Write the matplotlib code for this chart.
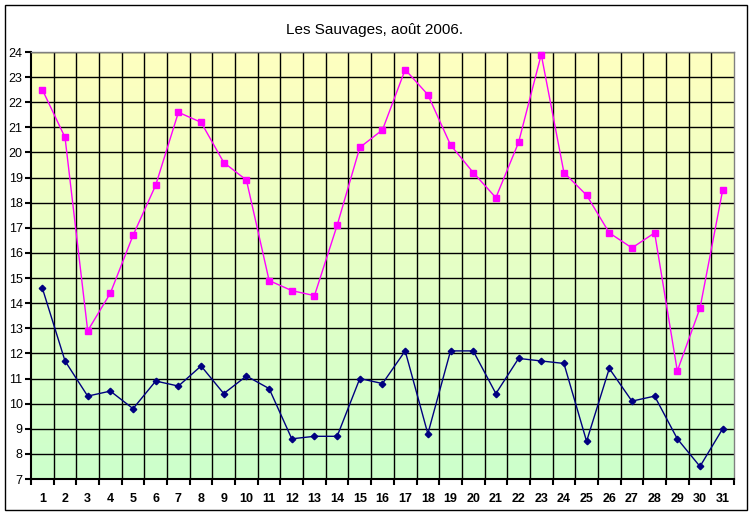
import matplotlib
matplotlib.use("Agg")
import matplotlib.pyplot as plt
import numpy as np
from matplotlib.patches import Rectangle
from matplotlib.colors import LinearSegmentedColormap

plt.rcParams['font.family'] = ['Liberation Sans', 'DejaVu Sans']

days = list(range(1, 32))
t_max = [22.5, 20.6, 12.9, 14.4, 16.7, 18.7, 21.6, 21.2, 19.6, 18.9,
         14.9, 14.5, 14.3, 17.1, 20.2, 20.9, 23.3, 22.3, 20.3, 19.2,
         18.2, 20.4, 23.9, 19.2, 18.3, 16.8, 16.2, 16.8, 11.3, 13.8, 18.5]
t_min = [14.6, 11.7, 10.3, 10.5, 9.8, 10.9, 10.7, 11.5, 10.4, 11.1,
         10.6, 8.6, 8.7, 8.7, 11.0, 10.8, 12.1, 8.8, 12.1, 12.1,
         10.4, 11.8, 11.7, 11.6, 8.5, 11.4, 10.1, 10.3, 8.6, 7.5, 9.0]
y_ticks = list(range(7, 25))
title = "Les Sauvages, août 2006."

fig = plt.figure(figsize=(7.53, 5.15), dpi=100)
ax = fig.add_axes([31/753, 1-479/515, (734-31)/753, (479-52)/515])

xmin, xmax = 0.5, 31.5
ymin, ymax = 7, 24
ax.set_xlim(xmin, xmax)
ax.set_ylim(ymin, ymax)

cmap = LinearSegmentedColormap.from_list('bg', ['#CCFFCC', '#FFFFC0'])
grad = np.linspace(0, 1, 256).reshape(-1, 1)
ax.imshow(grad, cmap=cmap, origin='lower', aspect='auto',
          extent=[xmin, xmax, ymin, ymax], zorder=0)

# grid
for y in y_ticks:
    ax.axhline(y, color='black', lw=1, zorder=1)
for x in np.arange(1.5, 31.5, 1):
    ax.axvline(x, color='black', lw=1, zorder=1)

ax.plot(days, t_max, color='#FF00FF', lw=1, marker='s', ms=3.8,
        mfc='#FF00FF', mec='#FF00FF', zorder=3, clip_on=False)
ax.plot(days, t_min, color='#000080', lw=1, marker='D', ms=3.3,
        mfc='#000080', mec='#000080', zorder=3, clip_on=False)

ax.set_yticks(y_ticks)
ax.set_yticklabels([str(v) for v in y_ticks], fontsize=9)
ax.set_xticks(days)
ax.set_xticklabels([str(d) for d in days], fontsize=9, fontweight='bold')
ax.set_xticks(np.arange(0.5, 32, 1), minor=True)
ax.tick_params(axis='x', which='major', length=0, pad=10)
ax.tick_params(axis='x', which='minor', length=4, direction='out', width=1.5)
ax.tick_params(axis='y', length=4, direction='out', width=1.5, pad=2)

for side in ['top', 'right']:
    ax.spines[side].set_color('#808080')
    ax.spines[side].set_linewidth(1)
for side in ['left', 'bottom']:
    ax.spines[side].set_color('black')
    ax.spines[side].set_linewidth(1.5)

fig.text(375/753, 1-30/515, title, ha='center', va='center', fontsize=11)

fig.patches.append(Rectangle((5/753, 5/515), (747-5)/753, (510-5)/515,
                             transform=fig.transFigure, fill=False,
                             edgecolor='black', lw=1))

fig.savefig('out.png', dpi=100)
